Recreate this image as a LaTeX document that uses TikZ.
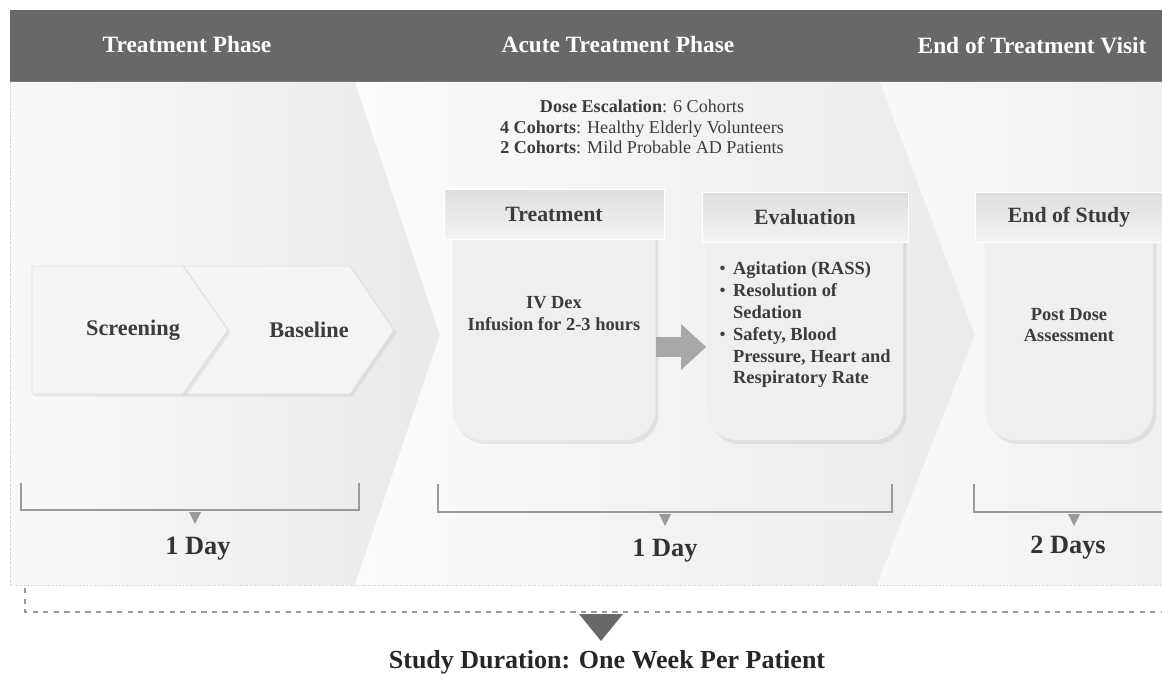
\documentclass[tikz,border=0pt]{standalone}
\usepackage{fontspec}
\setmainfont{Liberation Serif}
\usetikzlibrary{positioning,shadows,arrows.meta}

\definecolor{barGray}{HTML}{686868}
\definecolor{inkGray}{HTML}{3C3C3C}
\definecolor{lineGray}{HTML}{9A9A9A}
\definecolor{cardGray}{HTML}{EFEFEF}
\definecolor{arrowGray}{HTML}{A8A8A8}

\newcommand{\evbullet}{\makebox[0.75em][l]{\mdseries\textbullet}}
\newcommand{\evindent}{\makebox[0.75em]{}}

\begin{document}
\begin{tikzpicture}[
  x=0.02cm, y=-0.02cm,
  phasetitle/.style={text=white, font=\bfseries\fontsize{13.3}{15}\selectfont},
  chevbox/.style={fill=gray!9, draw=gray!25, line width=0.5pt,
    drop shadow={opacity=0.12, shadow xshift=0.5mm, shadow yshift=-0.5mm}},
  chevtext/.style={text=inkGray, font=\bfseries\fontsize{12.7}{14}\selectfont},
  cardnode/.style={fill=cardGray, rounded corners=0.6cm, minimum height=4.6cm,
    align=center, text=inkGray, font=\bfseries\fontsize{10.5}{12.4}\selectfont,
    drop shadow={opacity=0.15, shadow xshift=0.6mm, shadow yshift=-0.8mm}},
  tabnode/.style={top color=gray!26, bottom color=gray!9, draw=white,
    minimum height=1cm, text=inkGray, font=\bfseries\fontsize{12.4}{14}\selectfont},
  bracketline/.style={draw=lineGray, line width=0.8pt},
  daynode/.style={text=black!80, font=\bfseries\fontsize{15}{17}\selectfont},
  bigarrow/.style={draw=arrowGray, line width=0.4cm,
    -{Triangle[length=0.5cm, width=0.88cm]}}
]
\useasboundingbox (0,0) rectangle (1162,682);

% header bar
\fill[barGray] (10,10) rectangle (1162,82);
\node[phasetitle] (ph1) at (187,45) {Treatment Phase};
\node[phasetitle] (ph2) at (618,45) {Acute Treatment Phase};
\node[phasetitle] (ph3) at (1032,45) {End of Treatment Visit};

% chevron panels
\shade[left color=gray!5, right color=gray!17]
  (10,82) -- (355,82) -- (440,335) -- (355,585) -- (10,585) -- cycle;
\shade[left color=gray!3, right color=gray!16]
  (355,82) -- (880,82) -- (975,335) -- (877,585) -- (355,585) -- (440,335) -- cycle;
\shade[left color=gray!5, right color=gray!12]
  (880,82) -- (1162,82) -- (1162,585) -- (877,585) -- (975,335) -- cycle;
\draw[gray!45, densely dotted] (10,82) -- (10,585) -- (1162,585);

\node[align=center, text=inkGray, font=\fontsize{10.3}{11.5}\selectfont] (cohorts) at (642,127)
  {\textbf{Dose Escalation}: 6 Cohorts\\
   \textbf{4 Cohorts}: Healthy Elderly Volunteers\\
   \textbf{2 Cohorts}: Mild Probable AD Patients};

% screening and baseline
\draw[chevbox] (183,266) -- (350,266) -- (394,330) -- (350,394) -- (183,394) -- (228,330) -- cycle;
\draw[chevbox] (32,266) -- (183,266) -- (228,330) -- (183,394) -- (32,394) -- cycle;
\node[chevtext] (screen) at (133,330) {Screening};
\node[chevtext] (base) at (309,330) {Baseline};

% cards
\node[cardnode, minimum width=4.06cm] (tcard) at (554,325) {IV Dex\\Infusion for 2-3 hours\\[1pt]};
\node[tabnode, minimum width=4.4cm, above=-0.6cm of tcard] (ttab) {Treatment};

\node[cardnode, minimum width=3.94cm, align=left] (ecard) at (805,325)
  {\evbullet Agitation (RASS)\\
   \evbullet Resolution of\\
   \evindent Sedation\\
   \evbullet Safety, Blood\\
   \evindent Pressure, Heart and\\
   \evindent Respiratory Rate};
\node[tabnode, minimum width=4.12cm, above=-0.66cm of ecard] (etab) {Evaluation};

\node[cardnode, minimum width=3.36cm] (scard) at (1069,325) {Post Dose\\Assessment};
\node[tabnode, minimum width=3.74cm, above=-0.66cm of scard] (stab) {End of Study};

\draw[bigarrow] ([yshift=-0.44cm]tcard.east) -- ([yshift=-0.44cm]ecard.west);

% durations
\draw[bracketline] (21,483) |- (359,510) -- (359,483);
\fill[lineGray] (189,512) -- (201,512) -- (195,524) -- cycle;
\node[daynode] (d1) at (198,549) {1 Day};

\draw[bracketline] (438,484) |- (892,512) -- (892,484);
\fill[lineGray] (659,514) -- (671,514) -- (665,526) -- cycle;
\node[daynode] (d2) at (665,551) {1 Day};

\draw[bracketline] (974,484) |- (1162,512);
\fill[lineGray] (1068,514) -- (1080,514) -- (1074,526) -- cycle;
\node[daynode] (d3) at (1068,548) {2 Days};

% total
\draw[lineGray, dashed, line width=0.6pt] (25,588) |- (1162,612);
\fill[barGray] (579,614) -- (623,614) -- (601,641) -- cycle;
\node[daynode, font=\bfseries\fontsize{14.8}{17}\selectfont, text=black!85] (total) at (607,662)
  {Study Duration: One Week Per Patient};
\end{tikzpicture}
\end{document}
